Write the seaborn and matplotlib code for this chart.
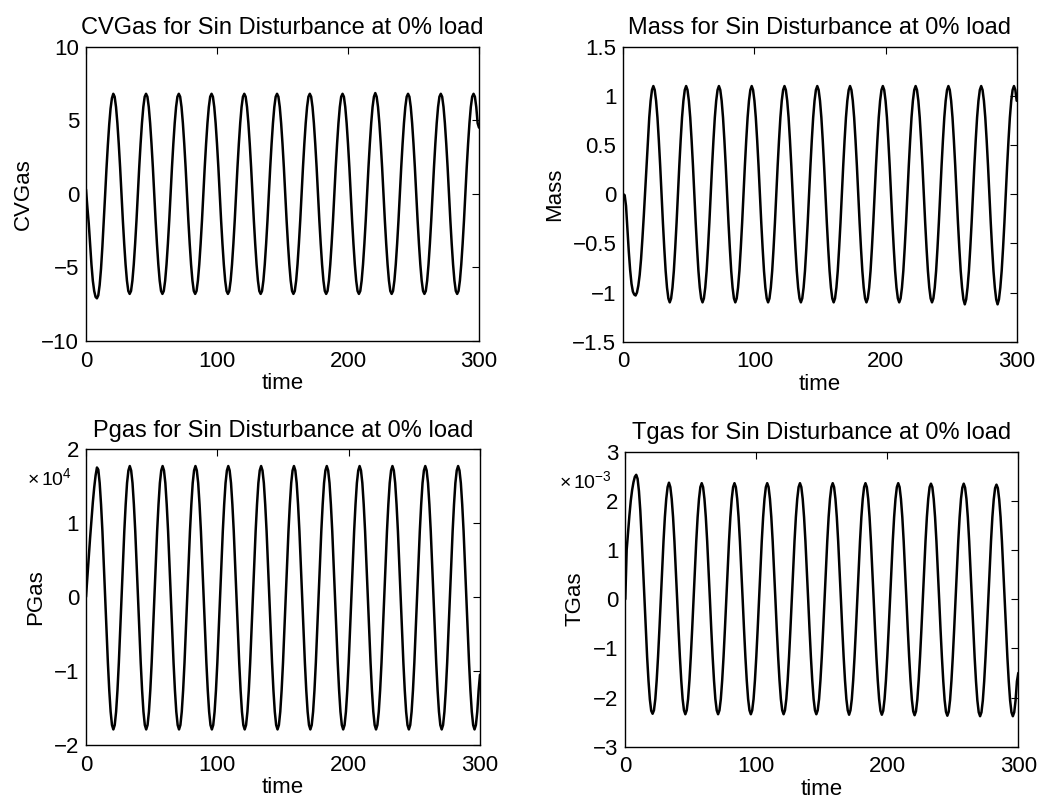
import numpy as np
import matplotlib
matplotlib.use("Agg")
import matplotlib.pyplot as plt
from matplotlib.ticker import FuncFormatter
import seaborn as sns

# ---------------- data ----------------
# sampling grid of the simulation output: 24 samples per 25-s period, 0..300 s
time = np.arange(289) * (25.0 / 24.0)

cvgas = [
    0.3, -0.9, -2.0, -3.4, -4.8, -5.9, -6.6, -7.0, -7.1, -6.9, -6.2, -5.1, -3.6, -1.9, -0.1, 1.7, 3.3, 4.7, 5.8, 6.5, 6.8, 6.6, 5.9, 4.8,
    3.4, 1.8, 0.0, -1.8, -3.4, -4.8, -5.9, -6.6, -6.8, -6.6, -5.9, -4.8, -3.4, -1.8, 0.0, 1.8, 3.4, 4.8, 5.9, 6.6, 6.8, 6.6, 5.9, 4.8,
    3.4, 1.8, 0.0, -1.8, -3.4, -4.8, -5.9, -6.6, -6.8, -6.6, -5.9, -4.8, -3.4, -1.8, 0.0, 1.8, 3.4, 4.8, 5.9, 6.6, 6.8, 6.6, 5.9, 4.8,
    3.4, 1.8, 0.0, -1.8, -3.4, -4.8, -5.9, -6.6, -6.8, -6.6, -5.9, -4.8, -3.4, -1.8, 0.0, 1.8, 3.4, 4.8, 5.9, 6.6, 6.8, 6.6, 5.9, 4.8,
    3.4, 1.8, 0.0, -1.8, -3.4, -4.8, -5.9, -6.6, -6.8, -6.6, -5.9, -4.8, -3.4, -1.8, 0.0, 1.8, 3.4, 4.8, 5.9, 6.6, 6.8, 6.6, 5.9, 4.8,
    3.4, 1.8, 0.0, -1.8, -3.4, -4.8, -5.9, -6.6, -6.8, -6.6, -5.9, -4.8, -3.4, -1.8, 0.0, 1.8, 3.4, 4.8, 5.9, 6.6, 6.8, 6.6, 5.9, 4.8,
    3.4, 1.8, 0.0, -1.8, -3.4, -4.8, -5.9, -6.6, -6.8, -6.6, -5.9, -4.8, -3.4, -1.8, 0.0, 1.8, 3.4, 4.8, 5.9, 6.6, 6.8, 6.6, 5.9, 4.8,
    3.4, 1.8, 0.0, -1.8, -3.4, -4.8, -5.9, -6.6, -6.8, -6.6, -5.9, -4.8, -3.4, -1.8, 0.0, 1.8, 3.4, 4.8, 5.9, 6.6, 6.8, 6.6, 5.9, 4.8,
    3.4, 1.8, 0.0, -1.8, -3.4, -4.8, -5.9, -6.6, -6.8, -6.6, -5.9, -4.8, -3.4, -1.8, 0.0, 1.8, 3.4, 4.8, 5.9, 6.6, 6.85, 6.6, 5.9, 4.8,
    3.4, 1.8, 0.0, -1.8, -3.4, -4.8, -5.9, -6.6, -6.8, -6.6, -5.9, -4.8, -3.4, -1.8, 0.0, 1.8, 3.4, 4.8, 5.9, 6.6, 6.8, 6.6, 5.9, 4.8,
    3.4, 1.8, 0.0, -1.8, -3.4, -4.8, -5.9, -6.6, -6.8, -6.6, -5.9, -4.8, -3.4, -1.8, 0.0, 1.8, 3.4, 4.8, 5.9, 6.6, 6.8, 6.6, 5.9, 4.8,
    3.4, 1.8, 0.0, -1.8, -3.4, -4.8, -5.9, -6.6, -6.8, -6.6, -5.9, -4.8, -3.4, -1.8, 0.0, 1.8, 3.4, 4.8, 5.9, 6.6, 6.8, 6.6, 5.9, 4.8,
    4.5,
]

mass = [
    0.0, -0.01, -0.12, -0.35, -0.58, -0.77, -0.91, -0.99, -1.02, -1.03, -1.0, -0.93, -0.82, -0.66, -0.45, -0.22, 0.03, 0.29, 0.55, 0.78, 0.95, 1.06, 1.10, 1.06,
    0.95, 0.78, 0.55, 0.29, 0.0, -0.29, -0.55, -0.78, -0.95, -1.06, -1.10, -1.06, -0.95, -0.78, -0.55, -0.29, 0.0, 0.29, 0.55, 0.78, 0.95, 1.06, 1.10, 1.06,
    0.95, 0.78, 0.55, 0.29, 0.0, -0.29, -0.55, -0.78, -0.95, -1.06, -1.10, -1.06, -0.95, -0.78, -0.55, -0.29, 0.0, 0.29, 0.55, 0.78, 0.95, 1.06, 1.10, 1.06,
    0.95, 0.78, 0.55, 0.29, 0.0, -0.29, -0.55, -0.78, -0.95, -1.06, -1.10, -1.06, -0.95, -0.78, -0.55, -0.29, 0.0, 0.29, 0.55, 0.78, 0.95, 1.06, 1.10, 1.06,
    0.95, 0.78, 0.55, 0.29, 0.0, -0.29, -0.55, -0.78, -0.95, -1.06, -1.10, -1.06, -0.95, -0.78, -0.55, -0.29, 0.0, 0.29, 0.55, 0.78, 0.95, 1.06, 1.10, 1.06,
    0.95, 0.78, 0.55, 0.29, 0.0, -0.29, -0.55, -0.78, -0.95, -1.06, -1.10, -1.06, -0.95, -0.78, -0.55, -0.29, 0.0, 0.29, 0.55, 0.78, 0.95, 1.06, 1.10, 1.06,
    0.95, 0.78, 0.55, 0.29, 0.0, -0.29, -0.55, -0.78, -0.95, -1.06, -1.10, -1.06, -0.95, -0.78, -0.55, -0.29, 0.0, 0.29, 0.55, 0.78, 0.95, 1.06, 1.10, 1.06,
    0.95, 0.78, 0.55, 0.29, 0.0, -0.29, -0.55, -0.78, -0.95, -1.06, -1.10, -1.06, -0.95, -0.78, -0.55, -0.29, 0.0, 0.29, 0.55, 0.78, 0.95, 1.06, 1.10, 1.06,
    0.95, 0.78, 0.55, 0.29, 0.0, -0.29, -0.55, -0.78, -0.95, -1.06, -1.10, -1.06, -0.95, -0.78, -0.55, -0.29, 0.0, 0.29, 0.55, 0.78, 0.95, 1.06, 1.10, 1.06,
    0.95, 0.78, 0.55, 0.29, 0.0, -0.29, -0.55, -0.78, -0.95, -1.06, -1.10, -1.06, -0.95, -0.78, -0.55, -0.29, 0.0, 0.29, 0.55, 0.78, 0.95, 1.06, 1.10, 1.06,
    0.95, 0.78, 0.55, 0.29, 0.0, -0.29, -0.55, -0.78, -0.95, -1.07, -1.12, -1.07, -0.95, -0.78, -0.55, -0.29, 0.0, 0.29, 0.55, 0.78, 0.95, 1.06, 1.10, 1.06,
    0.95, 0.78, 0.55, 0.29, 0.0, -0.29, -0.55, -0.78, -0.95, -1.07, -1.12, -1.07, -0.95, -0.78, -0.55, -0.29, 0.0, 0.29, 0.55, 0.78, 0.95, 1.06, 1.10, 1.06,
    0.95,
]

pgas = [
    0, 2700, 5400, 8000, 10500, 12800, 14800, 16400, 17500, 17200, 15400, 12500, 8900, 4600, 0, -4600, -8900, -12600, -15500, -17300, -17900, -17300, -15500, -12600,
    -8900, -4600, 0, 4600, 8900, 12500, 15400, 17100, 17700, 17100, 15400, 12500, 8900, 4600, 0, -4600, -8900, -12600, -15500, -17300, -17900, -17300, -15500, -12600,
    -8900, -4600, 0, 4600, 8900, 12500, 15400, 17100, 17700, 17100, 15400, 12500, 8900, 4600, 0, -4600, -8900, -12600, -15500, -17300, -17900, -17300, -15500, -12600,
    -8900, -4600, 0, 4600, 8900, 12500, 15400, 17100, 17700, 17100, 15400, 12500, 8900, 4600, 0, -4600, -8900, -12600, -15500, -17300, -17900, -17300, -15500, -12600,
    -8900, -4600, 0, 4600, 8900, 12500, 15400, 17100, 17700, 17100, 15400, 12500, 8900, 4600, 0, -4600, -8900, -12600, -15500, -17300, -17900, -17300, -15500, -12600,
    -8900, -4600, 0, 4600, 8900, 12500, 15400, 17100, 17700, 17100, 15400, 12500, 8900, 4600, 0, -4600, -8900, -12600, -15500, -17300, -17900, -17300, -15500, -12600,
    -8900, -4600, 0, 4600, 8900, 12500, 15400, 17100, 17700, 17100, 15400, 12500, 8900, 4600, 0, -4600, -8900, -12600, -15500, -17300, -17900, -17300, -15500, -12600,
    -8900, -4600, 0, 4600, 8900, 12500, 15400, 17100, 17700, 17100, 15400, 12500, 8900, 4600, 0, -4600, -8900, -12600, -15500, -17300, -17900, -17300, -15500, -12600,
    -8900, -4600, 0, 4600, 8900, 12500, 15400, 17100, 17700, 17100, 15400, 12500, 8900, 4600, 0, -4600, -8900, -12600, -15500, -17300, -17900, -17300, -15500, -12600,
    -8900, -4600, 0, 4600, 8900, 12500, 15400, 17100, 17700, 17100, 15400, 12500, 8900, 4600, 0, -4600, -8900, -12600, -15500, -17300, -17900, -17300, -15500, -12600,
    -8900, -4600, 0, 4600, 8900, 12500, 15400, 17100, 17700, 17100, 15400, 12500, 8900, 4600, 0, -4600, -8900, -12600, -15500, -17300, -17900, -17300, -15500, -12600,
    -8900, -4600, 0, 4600, 8900, 12500, 15400, 17100, 17700, 17100, 15400, 12500, 8900, 4600, 0, -4600, -8900, -12600, -15500, -17300, -17900, -17300, -15500, -12600,
    -10500,
]

# Tgas in units of 1e-3
tgas_e3 = [
    0.0, 1.0, 1.35, 1.7, 2.0, 2.22, 2.38, 2.49, 2.53, 2.45, 2.2, 1.8, 1.25, 0.63, 0.0, -0.62, -1.18, -1.66, -2.04, -2.27, -2.33, -2.26, -2.03, -1.65,
    -1.17, -0.61, 0.0, 0.61, 1.18, 1.67, 2.04, 2.28, 2.37, 2.28, 2.04, 1.67, 1.18, 0.61, 0.0, -0.61, -1.17, -1.65, -2.03, -2.26, -2.34, -2.26, -2.03, -1.65,
    -1.17, -0.61, 0.0, 0.61, 1.18, 1.67, 2.04, 2.28, 2.36, 2.28, 2.04, 1.67, 1.18, 0.61, 0.0, -0.61, -1.17, -1.65, -2.03, -2.26, -2.34, -2.26, -2.03, -1.65,
    -1.17, -0.61, 0.0, 0.61, 1.18, 1.67, 2.04, 2.28, 2.36, 2.28, 2.04, 1.67, 1.18, 0.61, 0.0, -0.61, -1.17, -1.65, -2.03, -2.26, -2.34, -2.26, -2.03, -1.65,
    -1.17, -0.61, 0.0, 0.61, 1.18, 1.67, 2.04, 2.28, 2.36, 2.28, 2.04, 1.67, 1.18, 0.61, 0.0, -0.61, -1.17, -1.65, -2.03, -2.26, -2.34, -2.26, -2.03, -1.65,
    -1.17, -0.61, 0.0, 0.61, 1.18, 1.67, 2.04, 2.28, 2.36, 2.28, 2.04, 1.67, 1.18, 0.61, 0.0, -0.61, -1.17, -1.65, -2.03, -2.26, -2.34, -2.26, -2.03, -1.65,
    -1.17, -0.61, 0.0, 0.61, 1.18, 1.67, 2.04, 2.28, 2.36, 2.28, 2.04, 1.67, 1.18, 0.61, 0.0, -0.61, -1.17, -1.65, -2.03, -2.26, -2.35, -2.26, -2.03, -1.65,
    -1.17, -0.61, 0.0, 0.61, 1.18, 1.67, 2.04, 2.28, 2.36, 2.28, 2.04, 1.67, 1.18, 0.61, 0.0, -0.61, -1.17, -1.65, -2.03, -2.27, -2.35, -2.27, -2.03, -1.65,
    -1.17, -0.61, 0.0, 0.61, 1.18, 1.67, 2.04, 2.28, 2.36, 2.28, 2.04, 1.67, 1.18, 0.61, 0.0, -0.61, -1.17, -1.65, -2.04, -2.28, -2.36, -2.28, -2.04, -1.65,
    -1.17, -0.61, 0.0, 0.61, 1.18, 1.67, 2.04, 2.28, 2.35, 2.28, 2.04, 1.67, 1.18, 0.61, 0.0, -0.61, -1.17, -1.66, -2.05, -2.29, -2.37, -2.29, -2.05, -1.66,
    -1.17, -0.61, 0.0, 0.61, 1.18, 1.67, 2.04, 2.27, 2.35, 2.27, 2.04, 1.67, 1.18, 0.61, 0.0, -0.61, -1.18, -1.67, -2.06, -2.30, -2.38, -2.30, -2.06, -1.67,
    -1.17, -0.61, 0.0, 0.61, 1.18, 1.67, 2.03, 2.26, 2.33, 2.26, 2.03, 1.67, 1.18, 0.61, 0.0, -0.61, -1.18, -1.67, -2.06, -2.30, -2.38, -2.30, -2.06, -1.67,
    -1.5,
]
tgas = np.array(tgas_e3) * 1e-3

titles = ["CVGas for Sin Disturbance at 0% load",
          "Mass for Sin Disturbance at 0% load",
          "Pgas for Sin Disturbance at 0% load",
          "Tgas for Sin Disturbance at 0% load"]
ylabels = ["CVGas", "Mass", "PGas", "TGas"]
xlabel = "time"
xticks = [0, 100, 200, 300]
yticks_list = [[-10, -5, 0, 5, 10],
               [-1.5, -1, -0.5, 0, 0.5, 1, 1.5],
               [-2e4, -1e4, 0, 1e4, 2e4],
               [-3e-3, -2e-3, -1e-3, 0, 1e-3, 2e-3, 3e-3]]
yscales = [1, 1, 1e4, 1e-3]
multipliers = [None, None, r"$\times\,10^{4}$", r"$\times\,10^{-3}$"]

# ---------------- style ----------------
sns.set_theme(style="white")
plt.rcParams["font.family"] = ["Liberation Sans", "DejaVu Sans"]
plt.rcParams["mathtext.fontset"] = "custom"
plt.rcParams["mathtext.rm"] = "Liberation Sans"
plt.rcParams["mathtext.it"] = "Liberation Sans:italic"
plt.rcParams["axes.edgecolor"] = "black"
plt.rcParams["axes.linewidth"] = 1.0

fig = plt.figure(figsize=(10.47, 8.07), dpi=100)
W, H = 1047.0, 807.0
rects = [
    (86.0, 46.7, 479.0, 341.0),
    (623.3, 46.7, 1016.7, 341.7),
    (86.0, 449.0, 480.0, 745.0),
    (625.3, 451.7, 1018.3, 746.7),
]
series = [cvgas, mass, pgas, tgas]

for i, (x0, y0, x1, y1) in enumerate(rects):
    ax = fig.add_axes([x0 / W, 1 - y1 / H, (x1 - x0) / W, (y1 - y0) / H])
    sns.lineplot(x=time, y=np.asarray(series[i]), ax=ax, color="black",
                 linewidth=1.8)
    ax.set_xlim(0, 300)
    yt = yticks_list[i]
    ax.set_ylim(yt[0], yt[-1])
    ax.set_xticks(xticks)
    ax.set_yticks(yt)
    sc = yscales[i]
    ax.yaxis.set_major_formatter(
        FuncFormatter(lambda v, p, sc=sc: ("%g" % round(v / sc, 6)).replace("-", "\u2212")))
    ax.tick_params(direction="in", length=5, width=0.8, top=True, right=True,
                   labelsize=16, colors="black")
    ax.tick_params(axis="x", pad=7)
    ax.tick_params(axis="y", pad=5)
    ax.set_title(titles[i], fontsize=17, pad=9, color="black")
    ax.set_xlabel(xlabel, fontsize=16, labelpad=1, color="black")
    ax.set_ylabel(ylabels[i], fontsize=16, labelpad=5, color="black")
    for s in ax.spines.values():
        s.set_visible(True)
        s.set_color("black")
    if multipliers[i]:
        ax.text(-0.035, 0.9, multipliers[i], transform=ax.transAxes,
                ha="right", va="center", fontsize=14, color="black")

fig.savefig("out.png", dpi=100, facecolor="white")
